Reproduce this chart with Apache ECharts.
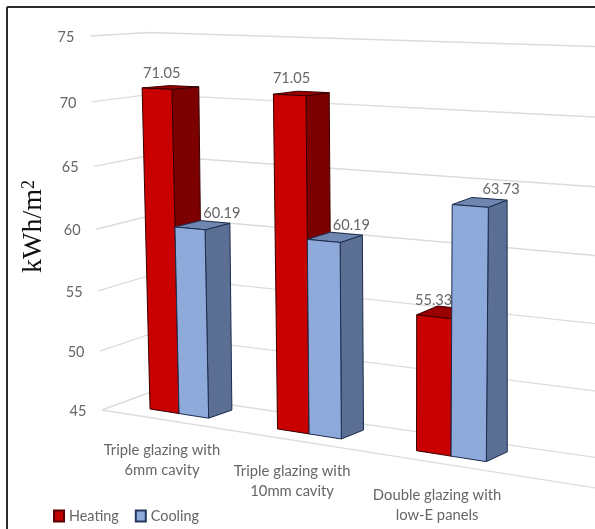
<!DOCTYPE html>
<html>
<head>
<meta charset="utf-8">
<style>html,body{margin:0;padding:0;background:#fff}#chart{width:595px;height:529px}</style>
<script src="https://cdn.jsdelivr.net/npm/echarts@6/dist/echarts.min.js"></script>
</head>
<body>
<div id="chart"></div>
<script>
// Annual energy demand per glazing option
const categories = ['Triple glazing with\n6mm cavity', 'Triple glazing with\n10mm cavity', 'Double glazing with\nlow-E panels'];
const heating = [71.05, 71.05, 55.33];
const cooling = [60.19, 60.19, 63.73];
const valueTicks = [45, 50, 55, 60, 65, 70, 75];

const FONT = 'Lato, "Open Sans", sans-serif';
const TEXT_GREY = '#666666';
const GRID_GREY = '#dcdcdc';

// Hand placement of labels, as pixel shifts from their default anchors
const HEATING_LABEL_SHIFT = [[0, 0], [2, -1], [4, 6]];
const COOLING_LABEL_SHIFT = [[0, 2], [-3, 2], [2, 1]];
const CATEGORY_LABEL_SHIFT = [[0, 0], [0, 0], [3, 2]];

// Planes of the box, as corners TL, TR, BR, BL of the unit square they project from
const PLANES = {
  barFront: [[107.8, 36.5], [532, 49.5], [527, 468], [118, 404]],
  barBack: [[137, 36.2], [548, 47.5], [547.6, 458], [142, 396.4]],
  wallBack: [[150, 32.5], [642, 48], [620, 461], [148, 393]],
  wallFront: [[90, 36], [670, 61], [640, 495], [102, 410]]
};

function homography(q) {
  const [[x0, y0], [x1, y1], [x2, y2], [x3, y3]] = q;
  const dx1 = x1 - x2, dx2 = x3 - x2, sx = x0 - x1 + x2 - x3;
  const dy1 = y1 - y2, dy2 = y3 - y2, sy = y0 - y1 + y2 - y3;
  const den = dx1 * dy2 - dx2 * dy1;
  const g = (sx * dy2 - dx2 * sy) / den;
  const h = (dx1 * sy - sx * dy1) / den;
  const a = x1 - x0 + g * x1, b = x3 - x0 + h * x3;
  const d = y1 - y0 + g * y1, e = y3 - y0 + h * y3;
  return (u, t) => {
    const w = g * u + h * t + 1;
    return [(a * u + b * t + x0) / w, (d * u + e * t + y0) / w];
  };
}
const project = {};
Object.keys(PLANES).forEach(k => { project[k] = homography(PLANES[k]); });

// Turns a [category, value] pair into unit coordinates using the chart's own axes
function toUnit(api, params, catPos, value) {
  const cs = params.coordSys;
  const band = api.size([1, 0])[0];
  const p = api.coord([0, value]);
  const x0 = p[0] - band / 2;
  return [(x0 + catPos * band - cs.x) / cs.width, (p[1] - cs.y) / cs.height];
}

const BAR_SPAN = 0.47;

function renderBar(side, colors, labelShift) {
  return function (params, api) {
    const cat = api.value(0), val = api.value(1);
    const left = side === 0 ? cat + 0.5 - BAR_SPAN / 2 : cat + 0.5;
    const right = side === 0 ? cat + 0.5 : cat + 0.5 + BAR_SPAN / 2;
    const corner = (plane, c, v) => {
      const [u, t] = toUnit(api, params, c, v);
      return project[plane](u, t);
    };
    const base = valueTicks[0];
    const fTL = corner('barFront', left, val), fTR = corner('barFront', right, val);
    const fBR = corner('barFront', right, base), fBL = corner('barFront', left, base);
    const bTL = corner('barBack', left, val), bTR = corner('barBack', right, val);
    const bBR = corner('barBack', right, base);
    const face = (points, fill) => ({
      type: 'polygon',
      shape: { points },
      style: { fill, stroke: colors.edge, lineWidth: 1, lineJoin: 'round' }
    });
    const anchor = side === 0 ? bTL : bTR;
    const shift = labelShift[cat];
    return {
      type: 'group',
      children: [
        {
          type: 'text',
          style: {
            text: val.toFixed(2),
            x: anchor[0] - 8 + shift[0],
            y: anchor[1] - 12 + shift[1],
            fill: TEXT_GREY,
            font: '14.6px ' + FONT,
            textAlign: 'center',
            textVerticalAlign: 'middle'
          }
        },
        face([fTR, bTR, bBR, fBR], colors.side),
        face([fTL, fTR, bTR, bTL], colors.top),
        face([fTL, fTR, fBR, fBL], colors.front)
      ]
    };
  };
}

function renderGridLine(params, api) {
  const val = api.value(0);
  const at = (plane, c) => {
    const [u, t] = toUnit(api, params, c, val);
    return project[plane](u, t);
  };
  const pFront = at('wallFront', 0), pKink = at('wallBack', 0), pEnd = at('wallBack', 3);
  const line = points => ({
    type: 'polyline',
    shape: { points },
    style: { fill: null, stroke: GRID_GREY, lineWidth: 1.4 }
  });
  const children = [
    line([pFront, pKink, pEnd]),
    {
      type: 'text',
      style: {
        text: String(val),
        x: pFront[0] - 24,
        y: pFront[1] + 1,
        fill: TEXT_GREY,
        font: '14.5px ' + FONT,
        textAlign: 'center',
        textVerticalAlign: 'middle'
      }
    }
  ];
  if (val === valueTicks[0]) children.push(line([pFront, at('wallFront', 3)]));
  return { type: 'group', children };
}

function renderCategoryLabel(params, api) {
  const cat = api.value(0);
  const [u, t] = toUnit(api, params, cat + 0.5, valueTicks[0]);
  const p = project.barFront(u, t);
  const shift = CATEGORY_LABEL_SHIFT[cat];
  return {
    type: 'text',
    style: {
      text: categories[cat],
      x: p[0] - 17 + shift[0],
      y: p[1] + 47 + shift[1],
      fill: TEXT_GREY,
      font: '14.8px ' + FONT,
      lineHeight: 20,
      textAlign: 'center',
      textVerticalAlign: 'middle'
    }
  };
}

const chart = echarts.init(document.getElementById('chart'), null, { renderer: 'canvas' });
chart.setOption({
  animation: false,
  backgroundColor: '#fff',
  grid: { left: 0, right: 0, top: 0, bottom: 0 },
  xAxis: { type: 'category', data: categories, show: false },
  yAxis: { type: 'value', min: valueTicks[0], max: valueTicks[valueTicks.length - 1], interval: 5, show: false },
  legend: {
    data: ['Heating', 'Cooling'],
    left: 53,
    top: 509,
    padding: 0,
    icon: 'rect',
    itemWidth: 10,
    itemHeight: 11,
    itemGap: 16,
    textStyle: { color: TEXT_GREY, fontFamily: FONT, fontSize: 14.4 }
  },
  graphic: [
    { type: 'line', shape: { x1: 7, y1: 7, x2: 595, y2: 7 }, style: { stroke: '#2b2b2b', lineWidth: 2 } },
    { type: 'line', shape: { x1: 7, y1: 7, x2: 7, y2: 529 }, style: { stroke: '#2b2b2b', lineWidth: 2 } },
    {
      type: 'text',
      x: 34,
      y: 226.5,
      rotation: Math.PI / 2,
      style: {
        text: '{main|kWh/m}{sup|2}',
        fill: '#111',
        textAlign: 'center',
        textVerticalAlign: 'middle',
        rich: {
          main: { font: '28px "Liberation Serif", serif', fill: '#111' },
          sup: { font: '18px "Liberation Serif", serif', fill: '#111', verticalAlign: 'top' }
        }
      }
    }
  ],
  series: [
    {
      type: 'custom',
      name: 'grid',
      silent: true,
      z: 1,
      renderItem: renderGridLine,
      data: valueTicks.map(v => [v]),
      encode: { x: [], y: 0 }
    },
    {
      type: 'custom',
      name: 'Heating',
      z: 2,
      itemStyle: { color: '#c00000', borderColor: '#5a0000', borderWidth: 1 },
      renderItem: renderBar(0, { front: '#c80000', side: '#7c0000', top: '#980000', edge: '#3a0000' }, HEATING_LABEL_SHIFT),
      data: heating.map((v, i) => [i, v]),
      encode: { x: 0, y: 1 }
    },
    {
      type: 'custom',
      name: 'Cooling',
      z: 3,
      itemStyle: { color: '#8eaadb', borderColor: '#24385f', borderWidth: 1 },
      renderItem: renderBar(1, { front: '#8eaadb', side: '#5b6f95', top: '#6f86b0', edge: '#1c2c4c' }, COOLING_LABEL_SHIFT),
      data: cooling.map((v, i) => [i, v]),
      encode: { x: 0, y: 1 }
    },
    {
      type: 'custom',
      name: 'categoryLabels',
      silent: true,
      z: 4,
      renderItem: renderCategoryLabel,
      data: categories.map((c, i) => [i]),
      encode: { x: 0 }
    }
  ]
});
</script>
</body>
</html>
